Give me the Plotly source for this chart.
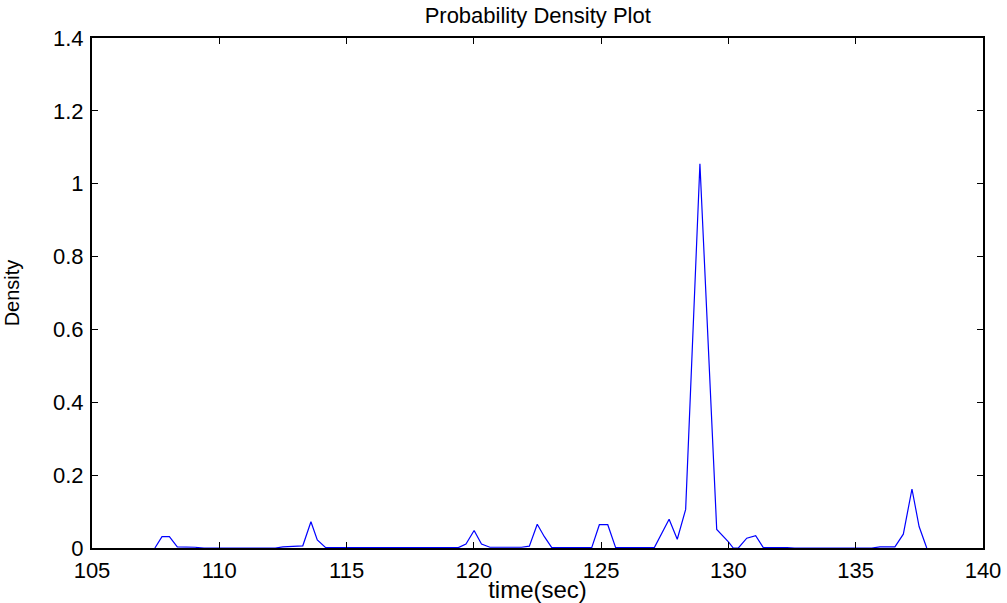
import plotly.graph_objects as go

# density curve (time in sec, density)
time_sec = [107.47, 107.75, 108.04, 108.35, 109.05, 109.40, 112.20, 112.50,
            113.28, 113.60, 113.85, 114.18, 119.39, 119.69, 120.01, 120.30,
            120.63, 121.87, 122.18, 122.49, 122.77, 123.06, 124.63, 124.93,
            125.26, 125.57, 127.09, 127.67, 127.99, 128.32, 128.88, 129.54,
            130.00, 130.19, 130.39, 130.72, 131.07, 131.37, 132.30, 132.60,
            135.63, 135.95, 136.54, 136.87, 137.21, 137.49, 137.79]
density = [0.000, 0.031, 0.031, 0.003, 0.002, 0.000, 0.000, 0.003,
           0.006, 0.072, 0.022, 0.001, 0.001, 0.011, 0.048, 0.011,
           0.002, 0.002, 0.005, 0.065, 0.031, 0.001, 0.001, 0.064,
           0.064, 0.001, 0.001, 0.079, 0.024, 0.106, 1.055, 0.051,
           0.017, 0.000, 0.000, 0.027, 0.034, 0.001, 0.001, 0.000,
           0.000, 0.003, 0.003, 0.038, 0.162, 0.059, 0.000]

x_ticks = [105, 110, 115, 120, 125, 130, 135, 140]
y_ticks = [0, 0.2, 0.4, 0.6, 0.8, 1.0, 1.2, 1.4]
y_tick_labels = ["0", "0.2", "0.4", "0.6", "0.8", "1", "1.2", "1.4"]

fig = go.Figure()
fig.add_trace(go.Scatter(x=time_sec, y=density, mode="lines",
                         line=dict(color="#0000ff", width=1.2),
                         showlegend=False))

axis_style = dict(showline=True, linecolor="black", linewidth=2,
                  mirror="ticks", ticks="inside", ticklen=6, tickwidth=1,
                  tickcolor="black", showgrid=False, zeroline=False,
                  automargin=False,
                  tickfont=dict(size=22, color="black"))

fig.update_xaxes(range=[105, 140], tickvals=x_ticks, ticklabelstandoff=2,
                 title=dict(text="time(sec)", font=dict(size=24, color="black"),
                            standoff=0),
                 **axis_style)
fig.update_yaxes(range=[0, 1.4], tickvals=y_ticks, ticktext=y_tick_labels,
                 ticklabelstandoff=2,
                 title=dict(text="Density", font=dict(size=20, color="black"),
                            standoff=28),
                 **axis_style)

fig.update_layout(
    width=1007, height=603,
    margin=dict(l=92, r=24, t=38, b=55),
    paper_bgcolor="white", plot_bgcolor="white",
    font=dict(family="Liberation Sans, Arial, sans-serif"),
    title=dict(text="Probability Density Plot", x=0.534, xanchor="center",
               y=0.975, yanchor="middle", font=dict(size=22, color="black")),
)

# drop the page's default body margin so the figure sits at the corner
fig.write_html("out.html", config={"displayModeBar": False},
               post_script="document.body.style.margin='0';")
